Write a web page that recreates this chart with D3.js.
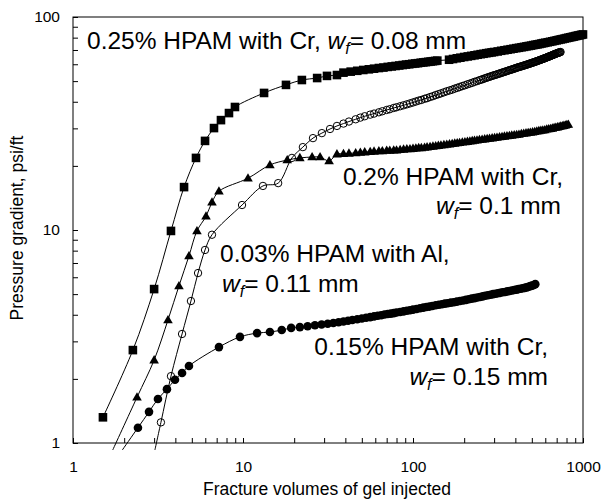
<!DOCTYPE html>
<html>
<head>
<meta charset="utf-8">
<script src="https://cdn.jsdelivr.net/npm/d3@7"></script>
<style>
    body { margin: 0; background: #fff; }
    svg { font-family: Arial, "Liberation Sans", sans-serif; }
</style>
</head>
<body>
<svg id="chart" width="601" height="499"></svg>
<script>
// 0.25% HPAM with Cr, wf = 0.08 mm (filled squares)
var sqVol = [1.5, 2.25, 3.0, 3.77, 4.5, 5.29, 5.98, 6.75, 7.42, 8.27, 8.97, 13.3, 17.9, 22.2, 27.3, 31.2, 35.7,
    39, 43, 47, 51, 55, 59, 63, 67, 71, 75, 79, 83, 87, 91, 95, 99, 103, 107, 111, 115, 119, 123, 127, 131, 135, 139,
    163, 172, 181, 190, 200, 210, 220, 230, 240, 250, 260, 270, 280, 290, 300, 315, 330, 345, 360, 375, 390, 405,
    420, 435, 450, 465, 480, 495, 510, 525, 540, 555, 570, 585, 600, 620, 640, 660, 680, 700, 720, 740, 760, 780,
    800, 820, 840, 860, 880, 900, 920, 940, 960, 980, 1000];
var sqGrad = [1.32, 2.73, 5.28, 9.9, 15.9, 21.8, 26.2, 30.1, 32.8, 35.4, 37.8, 44.0, 48.0, 50.6, 51.7, 52.9, 53.4,
    54.8, 55.4, 55.9, 56.4, 56.8, 57.2, 57.6, 57.9, 58.3, 58.6, 58.9, 59.2, 59.5, 59.8, 60.0, 60.3, 60.5, 60.7, 61.0, 61.2, 61.4, 61.6, 61.8, 62.0, 62.2, 62.4,
    63.0, 63.5, 64.0, 64.4, 64.9, 65.3, 65.7, 66.1, 66.5, 66.9, 67.2, 67.6, 67.9, 68.2, 68.5, 68.9, 69.4, 69.8, 70.2, 70.6, 71.0, 71.4,
    71.7, 72.1, 72.4, 72.8, 73.1, 73.4, 73.8, 74.1, 74.4, 74.7, 75.1, 75.4, 75.7, 76.1, 76.5, 76.9, 77.3, 77.7, 78.1, 78.5, 78.8, 79.2,
    79.6, 79.9, 80.3, 80.6, 80.9, 81.3, 81.6, 81.9, 82.2, 82.5, 82.8];

// 0.03% HPAM with Al, wf = 0.11 mm (open circles)
var ocVol = [3.29, 3.77, 4.38, 4.94, 5.44, 5.98, 6.57, 9.87, 13.1, 16.1, 19.4, 22.5, 25.8, 29.1, 32.5, 35.7,
    39, 42, 46, 49, 52, 56, 59, 63, 66, 70, 73, 77, 80, 84, 88, 92, 96, 100, 104, 108, 112, 117, 121, 126,
    131, 136, 141, 146, 152, 158, 164, 170, 176, 182, 188, 195, 202, 209, 216, 223, 230, 238,
    246, 252, 258, 264, 270, 276, 282, 288, 294, 300, 306, 312, 318, 324, 330, 336, 342, 348, 354, 360,
    366, 372, 378, 384, 390, 396, 402, 408, 414, 420, 426, 432, 438, 444, 450, 456, 462, 468, 474, 480,
    486, 492, 498, 504, 510, 516, 522, 528, 534, 540, 546, 552, 558, 564, 570, 576, 582, 588, 594, 600,
    606, 612, 618, 624, 630, 636, 642, 648, 654, 660, 666, 672, 678, 684, 690, 696, 702, 708, 714, 720,
    726, 732, 738];
var ocGrad = [1.25, 2.06, 3.25, 4.64, 6.28, 8.06, 9.5, 13.1, 16.1, 16.6, 21.8, 24.5, 27.0, 28.5, 29.8, 30.8,
    31.6, 32.3, 33.1, 33.7, 34.2, 34.8, 35.2, 35.7, 36.1, 36.6, 36.9, 37.4, 37.7, 38.1, 38.5, 38.9, 39.3, 39.7, 40.1, 40.5, 40.8, 41.3, 41.6, 42.1,
    42.5, 43.0, 43.4, 43.8, 44.3, 44.8, 45.2, 45.6, 46.1, 46.5, 46.9, 47.4, 47.8, 48.3, 48.7, 49.1, 49.6, 50.0,
    50.5, 50.8, 51.1, 51.5, 51.8, 52.1, 52.4, 52.7, 53.0, 53.3, 53.5, 53.8, 54.1, 54.3, 54.6, 54.9, 55.1, 55.4, 55.6, 55.9,
    56.1, 56.4, 56.6, 56.8, 57.1, 57.3, 57.5, 57.8, 58.0, 58.2, 58.4, 58.6, 58.8, 59.0, 59.2, 59.4, 59.6, 59.8, 60.0, 60.2,
    60.4, 60.6, 60.8, 61.0, 61.2, 61.4, 61.6, 61.8, 62.0, 62.2, 62.4, 62.6, 62.8, 63.0, 63.2, 63.4, 63.6, 63.8, 64.0, 64.2,
    64.4, 64.6, 64.8, 65.0, 65.2, 65.4, 65.6, 65.8, 66.0, 66.2, 66.4, 66.6, 66.8, 67.0, 67.2, 67.4, 67.5, 67.7, 67.9, 68.0,
    68.2, 68.4, 68.5];

// 0.2% HPAM with Cr, wf = 0.1 mm (filled triangles)
var trVol = [2.38, 3.0, 3.62, 4.2, 4.81, 5.36, 6.06, 6.57, 7.22, 10.7, 14.4, 18.2, 21.6, 25.5, 28.4, 32.1, 35.7,
    39, 42, 46, 49, 52, 56, 59, 63, 66, 70, 73, 77, 80, 84, 88, 92, 96, 100, 104, 108, 112, 117, 121, 126,
    131, 136, 141, 146, 152, 158, 164, 170, 176, 182, 188, 195, 202, 209, 216, 223, 230, 238, 246, 255, 264, 273,
    282, 292, 302, 312, 323, 334, 345, 357, 369, 381, 394, 407, 420, 434, 448, 462, 476, 490, 505, 520, 535, 550,
    565, 580, 596, 612, 628, 644, 660, 676, 692, 708, 724, 740, 756, 772, 788, 804, 820];
var trGrad = [1.64, 2.45, 3.78, 5.46, 7.55, 9.9, 11.6, 13.5, 15.2, 17.5, 20.2, 21.3, 21.8, 22.0, 22.0, 21.1, 22.7,
    22.8, 22.9, 23.0, 23.1, 23.2, 23.3, 23.4, 23.5, 23.5, 23.6, 23.6, 23.7, 23.7, 23.8, 23.9, 24.0, 24.0, 24.1, 24.2, 24.3, 24.3, 24.4, 24.5, 24.6,
    24.7, 24.8, 24.9, 25.0, 25.1, 25.2, 25.3, 25.4, 25.5, 25.6, 25.7, 25.8, 25.9, 26.0, 26.1, 26.2, 26.3, 26.4, 26.5, 26.6, 26.7, 26.8,
    26.9, 27.0, 27.1, 27.2, 27.3, 27.4, 27.5, 27.6, 27.7, 27.8, 27.9, 28.0, 28.1, 28.3, 28.4, 28.5, 28.6, 28.7, 28.8, 28.9, 29.1, 29.2,
    29.3, 29.4, 29.5, 29.7, 29.8, 29.9, 30.0, 30.2, 30.3, 30.4, 30.5, 30.7, 30.8, 30.9, 31.0, 31.2, 31.3];

// 0.15% HPAM with Cr, wf = 0.15 mm (filled circles)
var fcVol = [2.41, 2.8, 3.16, 3.57, 3.98, 4.38, 4.81, 7.22, 9.6, 12.1, 14.4, 16.9, 19.2, 21.6,
    24, 26.5, 29, 31.5, 34, 36.5, 39, 41.5, 44, 47, 50, 53, 56, 59, 62, 65, 68, 71, 74, 77, 80, 84, 88, 92, 96, 100,
    105, 110, 115, 120, 125, 130, 136, 142, 148, 154, 160, 167, 174, 181, 189, 197, 205, 213, 221, 230, 239, 248,
    257, 266, 276, 286, 296, 306, 316, 326, 337, 348, 359, 370, 382, 394, 406, 418, 430, 442, 454, 466, 478, 490, 502, 514, 524];
var fcGrad = [1.18, 1.40, 1.61, 1.79, 1.98, 2.13, 2.30, 2.82, 3.15, 3.28, 3.32, 3.39, 3.47, 3.50,
    3.53, 3.57, 3.60, 3.63, 3.66, 3.69, 3.72, 3.75, 3.78, 3.81, 3.84, 3.87, 3.90, 3.93, 3.96, 3.98, 4.01, 4.03, 4.05, 4.07, 4.10, 4.12, 4.15, 4.18, 4.20, 4.23,
    4.26, 4.29, 4.32, 4.35, 4.37, 4.40, 4.43, 4.46, 4.48, 4.51, 4.53, 4.56, 4.58, 4.61, 4.64, 4.67, 4.70, 4.73, 4.76, 4.79, 4.82, 4.85,
    4.88, 4.91, 4.94, 4.97, 5.00, 5.02, 5.05, 5.07, 5.10, 5.12, 5.15, 5.17, 5.20, 5.23, 5.25, 5.28, 5.30, 5.33, 5.35, 5.38, 5.41, 5.45, 5.48, 5.52, 5.57];

var xTickLabels = [1, 10, 100, 1000];
var yTickLabels = [1, 10, 100];

var series = [
    { vol: sqVol, grad: sqGrad, marker: "square", extend: false },
    { vol: ocVol, grad: ocGrad, marker: "open", extend: true },
    { vol: trVol, grad: trGrad, marker: "triangle", extend: true },
    { vol: fcVol, grad: fcGrad, marker: "dot", extend: true }
];

var svg = d3.select("#chart");
var margin = { top: 17, right: 18, bottom: 56, left: 73 };
var width = +svg.attr("width") - margin.left - margin.right;
var height = +svg.attr("height") - margin.top - margin.bottom;
var g = svg.append("g").attr("transform", "translate(" + margin.left + "," + margin.top + ")");

var x = d3.scaleLog().domain([1, 1000]).range([0, width]);
var y = d3.scaleLog().domain([1, 100]).range([height, 0]);

var minorX = d3.range(1, 4).reduce(function(a, e) {
    return a.concat(d3.range(1, 10).map(function(m) { return m * Math.pow(10, e - 1); }));
}, []).concat([1000]);
var minorY = d3.range(1, 3).reduce(function(a, e) {
    return a.concat(d3.range(1, 10).map(function(m) { return m * Math.pow(10, e - 1); }));
}, []).concat([100]);

// Attach X Axis
var xAxis = g.append("g")
    .attr("transform", "translate(0," + height + ")")
    .call(d3.axisBottom(x)
        .tickValues(minorX)
        .tickSizeInner(-5)
        .tickSizeOuter(0)
        .tickPadding(18)
        .tickFormat(function(d) { return xTickLabels.indexOf(d) >= 0 ? d : ""; }));
xAxis.select(".domain").remove();
xAxis.selectAll("text").style("font-size", "15.5px").attr("fill", "#000");

// Attach Y Axis
var yAxis = g.append("g")
    .call(d3.axisLeft(y)
        .tickValues(minorY)
        .tickSizeInner(-5)
        .tickSizeOuter(0)
        .tickPadding(13)
        .tickFormat(function(d) { return yTickLabels.indexOf(d) >= 0 ? d : ""; }));
yAxis.select(".domain").remove();
yAxis.selectAll("text").style("font-size", "15.5px").attr("fill", "#000");

// Frame
g.append("rect")
    .attr("width", width)
    .attr("height", height)
    .attr("fill", "none")
    .attr("stroke", "#000")
    .attr("stroke-width", 1);

var line = d3.line().curve(d3.curveCatmullRom.alpha(0.5));

series.forEach(function(s) {
    var pts = s.vol.map(function(v, i) { return [x(v), y(s.grad[i])]; });
    var linePts = pts.slice();
    if (s.extend) {
        // carry the first segment on down to just under the axis
        var p0 = pts[0], p1 = pts[1];
        var k = (height + 7 - p0[1]) / (p0[1] - p1[1]);
        linePts.unshift([p0[0] + (p0[0] - p1[0]) * k, height + 7]);
    }

    g.append("path")
        .attr("d", line(linePts))
        .attr("fill", "none")
        .attr("stroke", "#000")
        .attr("stroke-width", 1);

    var m = g.append("g");
    if (s.marker === "square") {
        m.selectAll("rect").data(pts).enter().append("rect")
            .attr("x", function(d) { return d[0] - 4.3; })
            .attr("y", function(d) { return d[1] - 4.3; })
            .attr("width", 8.6)
            .attr("height", 8.6)
            .attr("fill", "#000");
    } else if (s.marker === "triangle") {
        var tri = d3.symbol().type(d3.symbolTriangle).size(40);
        m.selectAll("path").data(pts).enter().append("path")
            .attr("d", tri)
            .attr("transform", function(d) { return "translate(" + d[0] + "," + (d[1] + 0.5) + ")"; })
            .attr("fill", "#000");
    } else if (s.marker === "open") {
        // hollow rings, no fill, so the dense tail piles up dark
        m.selectAll("circle").data(pts).enter().append("circle")
            .attr("cx", function(d) { return d[0]; })
            .attr("cy", function(d) { return d[1]; })
            .attr("r", 3.7)
            .attr("fill", "none")
            .attr("stroke", "#000")
            .attr("stroke-width", 1);
    } else {
        m.selectAll("circle").data(pts).enter().append("circle")
            .attr("cx", function(d) { return d[0]; })
            .attr("cy", function(d) { return d[1]; })
            .attr("r", 4.3)
            .attr("fill", "#000");
    }
});

// Labels on the curves
function wfLabel(sel, value) {
    sel.append("tspan").attr("font-style", "italic").text("w");
    sel.append("tspan").attr("font-style", "italic").attr("font-size", "16px").attr("dy", 5).text("f");
    sel.append("tspan").attr("dy", -5).text("= " + value + " mm");
}

function note(px, py, anchor) {
    return svg.append("text")
        .attr("x", px)
        .attr("y", py)
        .attr("text-anchor", anchor)
        .style("font-size", "24.5px")
        .attr("fill", "#000");
}

var t1 = note(87, 49, "start");
t1.append("tspan").text("0.25% HPAM with Cr, ");
wfLabel(t1, "0.08");

note(563, 185, "end").text("0.2% HPAM with Cr,");
wfLabel(note(561, 214, "end"), "0.1");

note(220, 262, "start").text("0.03% HPAM with Al,");
wfLabel(note(222, 292, "start"), "0.11");

note(548, 355, "end").text("0.15% HPAM with Cr,");
wfLabel(note(548, 385, "end"), "0.15");

// Axis titles
svg.append("text")
    .attr("x", 327)
    .attr("y", 495)
    .attr("text-anchor", "middle")
    .style("font-size", "17.5px")
    .text("Fracture volumes of gel injected");

svg.append("text")
    .attr("transform", "translate(23,228) rotate(-90)")
    .attr("text-anchor", "middle")
    .style("font-size", "17.5px")
    .text("Pressure gradient, psi/ft");
</script>
</body>
</html>
